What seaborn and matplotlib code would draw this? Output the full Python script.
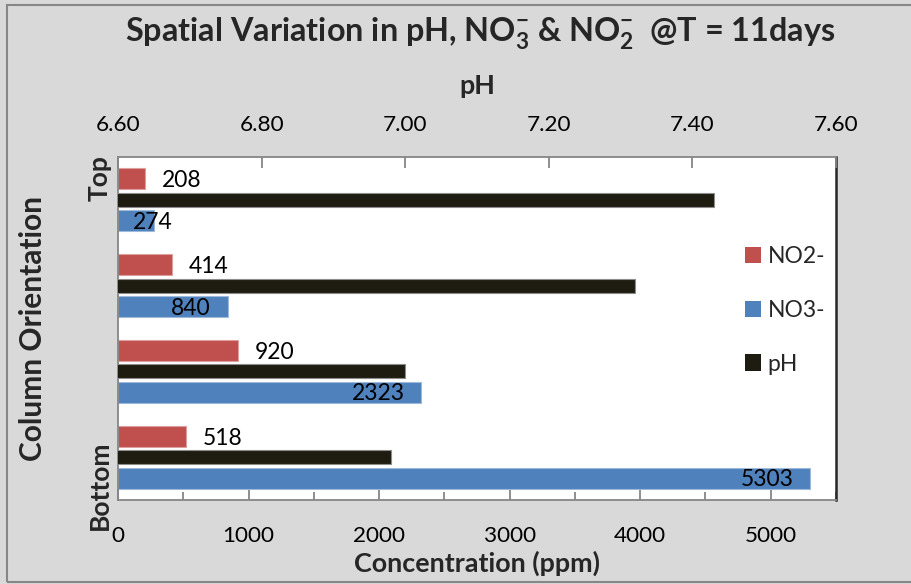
import matplotlib
matplotlib.use("Agg")
import matplotlib.pyplot as plt
import matplotlib.colors as mcolors
import numpy as np
import pandas as pd
import seaborn as sns
from matplotlib.patches import Rectangle, Patch
from matplotlib.ticker import FixedLocator, MultipleLocator

# ---- data -------------------------------------------------------------
positions = ["Top", "Upper middle", "Lower middle", "Bottom"]
position_labels = ["Top", "", "", "Bottom"]
no2_ppm = [208, 414, 920, 518]
no3_ppm = [274, 840, 2323, 5303]
ph_values = [7.43, 7.32, 7.00, 6.98]
series_names = ["NO2-", "NO3-", "pH"]
conc_ticks = [0, 1000, 2000, 3000, 4000, 5000]
ph_ticks = [6.60, 6.80, 7.00, 7.20, 7.40, 7.60]

# ---- style ------------------------------------------------------------
sns.set_theme(style="white")
plt.rcParams["font.family"] = ["Lato", "DejaVu Sans"]
plt.rcParams["mathtext.fontset"] = "custom"
plt.rcParams["mathtext.rm"] = "Lato"
plt.rcParams["mathtext.it"] = "Lato:italic"
plt.rcParams["mathtext.bf"] = "Lato:bold"

RED = "#C0504D"
BLUE = "#4F81BD"
DARK = "#1E1B11"
BG = "#D9D9D9"
AXIS_GREY = "#868686"
TICK_FS = 16.2
VALUE_FS = 16.5
LABEL_FS = 19.4

conc = pd.DataFrame({
    "position": positions * 2,
    "series": ["NO2-"] * len(positions) + ["NO3-"] * len(positions),
    "ppm": no2_ppm + no3_ppm,
})
ph_df = pd.DataFrame({"position": positions, "pH": ph_values})

W, H = 912, 584
fig = plt.figure(figsize=(W / 100, H / 100), dpi=100, facecolor=BG)
ax = fig.add_axes([118 / W, 1 - 500 / H, 718 / W, 343 / H])
ax.set_facecolor("white")

# concentration bars; the middle hue slot stays empty for the pH bar
sns.barplot(data=conc, y="position", x="ppm", hue="series", order=positions,
            hue_order=["NO2-", "pH", "NO3-"],
            palette={"NO2-": RED, "pH": DARK, "NO3-": BLUE},
            orient="h", width=0.735, errorbar=None, saturation=1,
            legend=False, ax=ax)
for p in ax.patches:
    fc = np.array(mcolors.to_rgb(p.get_facecolor()))
    p.set_edgecolor(fc + (1 - fc) * 0.45)
    p.set_linewidth(0.8)

ax.set_xlim(0, 5500)
ax.xaxis.set_major_locator(FixedLocator(conc_ticks))
ax.xaxis.set_minor_locator(MultipleLocator(500))
ax.tick_params(axis="x", which="both", bottom=True, top=False, direction="in",
               color=AXIS_GREY, width=1.3, labelsize=TICK_FS, pad=19,
               labelcolor="black")
ax.tick_params(axis="x", which="major", length=8)
ax.tick_params(axis="x", which="minor", length=6)
ax.set_yticks([])
ax.set_ylim(3.5, -0.5)

# value labels
for i, v in enumerate(no2_ppm):
    ax.annotate(f"{v}", xy=(v, i - 0.245), xytext=(12, -1.5),
                textcoords="offset points", ha="left", va="center",
                fontsize=VALUE_FS, color="black")
for i, v in enumerate(no3_ppm):
    if v < 600:
        ax.annotate(f"{v}", xy=(0, i + 0.245), xytext=(11, -1),
                    textcoords="offset points", ha="left", va="center",
                    fontsize=VALUE_FS, color="black")
    else:
        ax.annotate(f"{v}", xy=(v, i + 0.245), xytext=(-12, -1),
                    textcoords="offset points", ha="right", va="center",
                    fontsize=VALUE_FS, color="black")

# pH on the secondary (top) axis
ax2 = ax.twiny()
sns.barplot(data=ph_df, y="position", x="pH", order=positions, color=DARK,
            saturation=1, orient="h", width=0.163, errorbar=None,
            edgecolor="#8C8C8C", linewidth=0.8, ax=ax2)
ax2.set_xlim(6.6, 7.6)
ax2.set_ylim(3.5, -0.5)
ax2.set_xticks(ph_ticks, labels=[f"{t:.2f}" for t in ph_ticks])
ax2.tick_params(axis="x", which="major", top=True, bottom=False,
                direction="in", length=8, width=1.3, color=AXIS_GREY,
                labelsize=TICK_FS, pad=15.5, labelcolor="black")

# frame
for name, sp in ax.spines.items():
    sp.set_visible(True)
    sp.set_color(AXIS_GREY)
    sp.set_linewidth(1.3)
ax.spines["right"].set_color("#262626")
ax.spines["right"].set_linewidth(1.8)
for sp in ax2.spines.values():
    sp.set_visible(False)

# axis titles
ax2.set_xlabel("pH", fontsize=LABEL_FS, fontweight="bold", va="center")
ax2.xaxis.set_label_coords(0.5, (500 - 86) / 343)
ax.set_xlabel("Concentration (ppm)", fontsize=LABEL_FS, fontweight="bold",
              va="center")
ax.xaxis.set_label_coords(0.5, (500 - 563) / 343)
ax.set_ylabel("Column Orientation", fontsize=21.5, fontweight="bold",
              va="center")
ax.yaxis.set_label_coords((33 - 118) / 718, 0.5)

# end labels of the category axis
for lab, yy in zip(["Top", "Bottom"], [-0.25, 3.33]):
    ax.text((100 - 118) / 718, yy, lab, transform=ax.get_yaxis_transform(),
            rotation=90, ha="center", va="center", fontsize=19,
            fontweight="bold")

# legend
handles = [Patch(facecolor=c, edgecolor="none") for c in (RED, BLUE, DARK)]
fig.legend(handles, series_names, loc="upper left",
           bbox_to_anchor=(745 / W, 1 - 246 / H), frameon=False,
           fontsize=16.5, handlelength=0.7, handleheight=0.7,
           handletextpad=0.28, labelspacing=1.43, borderpad=0,
           borderaxespad=0)

# title
fig.text(480 / W, 1 - 34 / H,
         r"Spatial Variation in pH, NO$_\mathbf{3}^\mathbf{-}$ & "
         r"NO$_\mathbf{2}^\mathbf{-}$  @T = 11days",
         ha="center", va="center", fontsize=23.3, fontweight="bold")

# chart-area border
fig.patches.append(Rectangle((7 / W, 2 / H), 1.0, 1 - 7 / H,
                             transform=fig.transFigure, fill=False,
                             edgecolor="#878787", linewidth=1.5))

fig.savefig("out.png", dpi=100, facecolor=BG)
